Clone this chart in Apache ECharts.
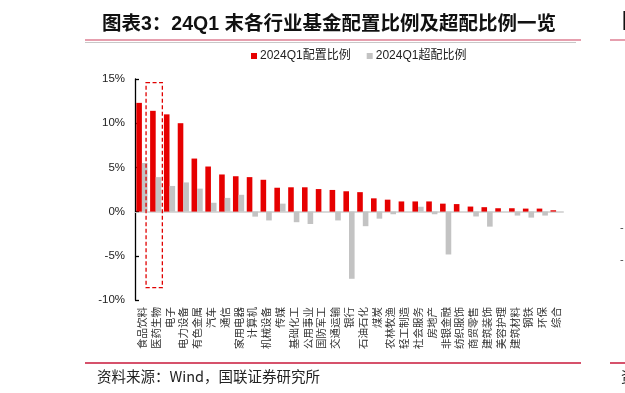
<!DOCTYPE html>
<html>
<head>
<meta charset="utf-8">
<script src="https://cdn.jsdelivr.net/npm/echarts@6/dist/echarts.min.js"></script>
<style>
html,body{margin:0;padding:0;background:#fff;}
#main{width:625px;height:393px;}
</style>
</head>
<body>
<div id="main"></div>
<script>
const categories = ['食品饮料','医药生物','电子','电力设备','有色金属','汽车','通信','家用电器','计算机','机械设备','传媒','基础化工','公用事业','国防军工','交通运输','银行','石油石化','煤炭','农林牧渔','轻工制造','社会服务','房地产','非银金融','纺织服饰','商贸零售','建筑装饰','美容护理','建筑材料','钢铁','环保','综合'];
const allocRatio = [12.3,11.4,11.0,10.0,6.0,5.1,4.2,4.0,3.9,3.6,2.7,2.75,2.75,2.55,2.45,2.3,2.2,1.5,1.35,1.15,1.15,1.15,0.9,0.85,0.57,0.5,0.38,0.38,0.34,0.34,0.15];
const overRatio = [5.5,3.9,2.9,3.3,2.6,1.0,1.55,1.9,-0.57,-1.0,0.9,-1.2,-1.4,0,-1.0,-7.6,-1.65,-0.8,-0.3,0,0.55,-0.3,-4.85,0,-0.55,-1.7,0,-0.45,-0.68,-0.45,0];
const seriesNames = ['2024Q1配置比例','2024Q1超配比例'];
const titleText = '图表3：24Q1 末各行业基金配置比例及超配比例一览';
const sourceText = '资料来源：Wind，国联证券研究所';
const highlightCategory = '医药生物';
const highlightRange = [14.6, -8.6];

const LATIN = '"Liberation Sans", Arial, "Noto Sans CJK SC", sans-serif';
const CJK = '"Noto Sans CJK SC", "Liberation Sans", sans-serif';

const chart = echarts.init(document.getElementById('main'), null, {renderer:'canvas'});
const option = {
  animation: false,
  backgroundColor: '#fff',
  title: {
    text: titleText,
    left: 97, top: 10,
    textStyle: {fontSize: 19.5, fontWeight: 'bold', color: '#111', fontFamily: LATIN}
  },
  legend: {
    data: seriesNames,
    left: 246, top: 45,
    icon: 'rect', itemWidth: 6, itemHeight: 6, itemGap: 16,
    textStyle: {fontSize: 12, color: '#222', fontFamily: LATIN, padding: [0,0,0,-2]}
  },
  grid: {left: 135, right: 62, top: 79, bottom: 93, containLabel: false},
  xAxis: [
    {
      type: 'category', data: categories,
      axisLine: {onZero: true, lineStyle: {color: '#d9d9d9', width: 2}},
      axisTick: {show: false}, axisLabel: {show: false}
    },
    {
      type: 'category', data: categories, position: 'bottom',
      axisLine: {show: false, onZero: false}, axisTick: {show: false},
      axisLabel: {interval: 0, rotate: 90, fontSize: 10.5, color: '#333', margin: 7, fontFamily: CJK}
    }
  ],
  yAxis: {
    type: 'value', min: -10, max: 15, interval: 5,
    axisLine: {show: true, lineStyle: {color: '#000', width: 1.3}},
    axisTick: {show: true, inside: true, length: 4, lineStyle: {color: '#000', width: 1.3}},
    splitLine: {show: false},
    axisLabel: {formatter: '{value}%', fontSize: 11.5, color: '#222', margin: 10, fontFamily: LATIN}
  },
  series: [
    {name: seriesNames[0], type: 'bar', data: allocRatio, xAxisIndex: 0, barWidth: 5.6, barGap: '0%', itemStyle: {color: '#e60000'}},
    {name: seriesNames[1], type: 'bar', data: overRatio, xAxisIndex: 0, barWidth: 5.6, barGap: '0%', itemStyle: {color: '#c3c3c3'}}
  ],
  graphic: [
    {type: 'line', shape: {x1: 85, y1: 40, x2: 581, y2: 40}, style: {stroke: '#de7f93', lineWidth: 1.5}},
    {type: 'line', shape: {x1: 85, y1: 42.5, x2: 576, y2: 42.5}, style: {stroke: '#c8c8c8', lineWidth: 1}},
    {type: 'line', shape: {x1: 610, y1: 40, x2: 625, y2: 40}, style: {stroke: '#de7f93', lineWidth: 1.5}},
    {type: 'text', x: 622, y: 20, style: {text: '图', font: 'bold 20px "Noto Sans CJK SC"', fill: '#111', textVerticalAlign: 'middle'}},
    {type: 'text', x: 620, y: 228, style: {text: '-', font: '11px "Liberation Sans"', fill: '#444', textVerticalAlign: 'middle'}},
    {type: 'text', x: 620, y: 260, style: {text: '-', font: '11px "Liberation Sans"', fill: '#444', textVerticalAlign: 'middle'}},
    {type: 'line', shape: {x1: 85, y1: 363, x2: 581, y2: 363}, style: {stroke: '#c8173a', lineWidth: 1.5}},
    {type: 'line', shape: {x1: 610, y1: 363, x2: 625, y2: 363}, style: {stroke: '#c8173a', lineWidth: 1.5}},
    {type: 'text', x: 97, y: 376, style: {text: sourceText, font: '14.5px "Noto Sans CJK SC"', fill: '#222', textVerticalAlign: 'middle'}},
    {type: 'text', x: 621, y: 376, style: {text: '资', font: '14.5px "Noto Sans CJK SC"', fill: '#222', textVerticalAlign: 'middle'}}
  ]
};
chart.setOption(option);

// Highlight box around a category, positioned through the chart's own scales
const cx = chart.convertToPixel({xAxisIndex: 0}, highlightCategory);
const c0 = chart.convertToPixel({xAxisIndex: 0}, categories[0]);
const c1 = chart.convertToPixel({xAxisIndex: 0}, categories[1]);
const bandW = c1 - c0;
const yTop = chart.convertToPixel({yAxisIndex: 0}, highlightRange[0]);
const yBot = chart.convertToPixel({yAxisIndex: 0}, highlightRange[1]);
const boxW = bandW * 1.18;
option.graphic.push({
  type: 'rect', z: 100,
  shape: {x: cx - boxW/2 - 1.5, y: yTop, width: boxW, height: yBot - yTop},
  style: {fill: 'none', stroke: '#e00000', lineWidth: 1.3, lineDash: [4, 2.5]}
});
chart.setOption({graphic: option.graphic});
</script>
</body>
</html>
